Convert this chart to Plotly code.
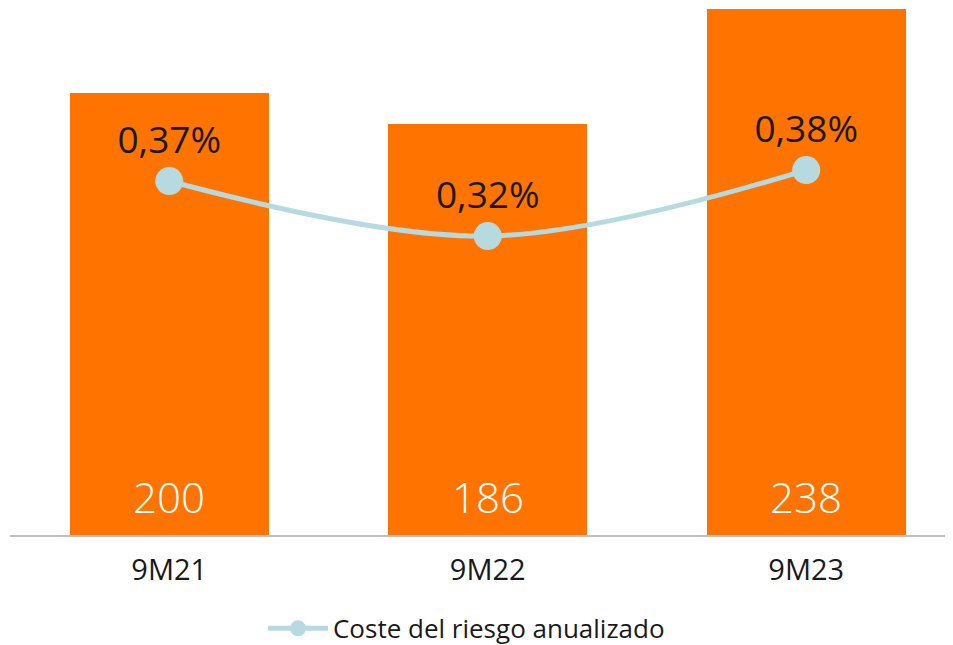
"""
coste del riesgo: bars + annualized cost-of-risk line
"""

import plotly.graph_objects as go

periodos = ["9M21", "9M22", "9M23"]
dotaciones = [200, 186, 238]
coste_riesgo = [0.37, 0.32, 0.38]
etiquetas_cr = ["0,37%", "0,32%", "0,38%"]

NARANJA = "#FF7300"
AZUL_CLARO = "#B7DAE0"
TEXTO = "#1A1A1A"
FUENTE = "Open Sans"

fig = go.Figure()

fig.add_trace(go.Bar(
    x=periodos, y=dotaciones,
    marker=dict(color=NARANJA, line=dict(width=0)),
    width=0.625,
    showlegend=False,
    hoverinfo="skip",
))

fig.add_trace(go.Scatter(
    x=periodos, y=coste_riesgo,
    yaxis="y2",
    mode="lines+markers+text",
    name="Coste del riesgo anualizado",
    line=dict(color=AZUL_CLARO, width=5, shape="spline", smoothing=1),
    marker=dict(color=AZUL_CLARO, size=28),
    text=etiquetas_cr,
    textposition="top center",
    textfont=dict(family=FUENTE, size=37, color=TEXTO),
))

# bar values sit at the foot of each bar
for p, v in zip(periodos, dotaciones):
    fig.add_annotation(
        x=p, y=0, yref="y", text=str(v), showarrow=False,
        yanchor="bottom", yshift=8,
        font=dict(family=FUENTE, size=42, color="white", weight=300),
    )

# page body adds an 8px offset, so margins are trimmed to compensate
fig.update_layout(
    width=953, height=645,
    margin=dict(l=2, r=0, t=1, b=118, autoexpand=False),
    paper_bgcolor="white", plot_bgcolor="white",
    font=dict(family=FUENTE, color=TEXTO),
    xaxis=dict(
        range=[-0.5, 2.486],
        showgrid=False, zeroline=False,
        showline=True, linecolor="#BFBFBF", linewidth=2,
        ticks="", ticklabelstandoff=8,
        tickfont=dict(family=FUENTE, size=29, color=TEXTO),
        fixedrange=True,
    ),
    yaxis=dict(
        range=[0, 238],
        visible=False, fixedrange=True,
    ),
    yaxis2=dict(
        range=[0.0482, 0.5264],
        overlaying="y", visible=False, fixedrange=True,
    ),
    legend=dict(
        orientation="h", x=0.48, xanchor="center", y=-0.133, yanchor="top",
        font=dict(family=FUENTE, size=26, color=TEXTO),
        itemwidth=60,
    ),
    bargap=0,
)

fig.write_html("out.html")
